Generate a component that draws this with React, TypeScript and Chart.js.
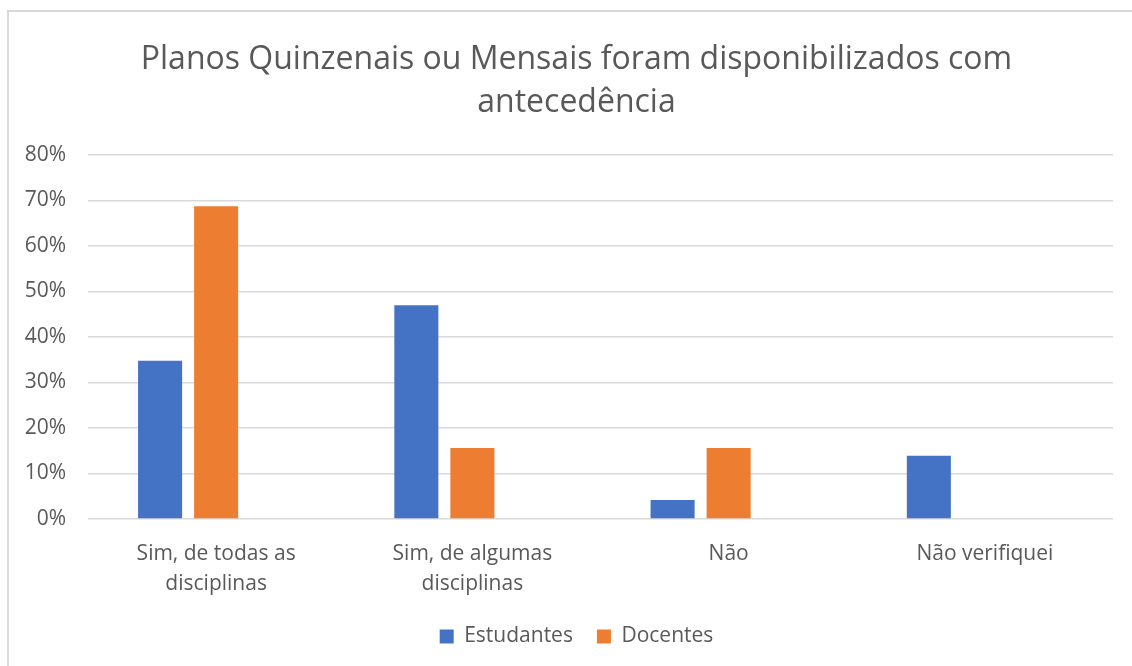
import React, { useEffect, useRef } from "react";
import { Chart, registerables } from "chart.js";

Chart.register(...registerables);

const titleLines = ["Planos Quinzenais ou Mensais foram disponibilizados com", "antecedência"];
const categories = [["Sim, de todas as", "disciplinas"], ["Sim, de algumas", "disciplinas"], "Não", "Não verifiquei"];
const seriesNames = ["Estudantes", "Docentes"];
const estudantes = [34.8, 47.0, 4.2, 13.9];
const docentes = [68.75, 15.6, 15.6, 0];
const emptySeries = [null, null, null, null];
const yMin = 0;
const yMax = 80;
const yStep = 10;

const FONT = "'Open Sans', sans-serif";
const TEXT = "#595959";

const shiftPlugin = {
  id: "shiftBlocks",
  afterLayout(chart: any) {
    const dx = 20;
    if (chart.titleBlock) {
      chart.titleBlock.left += dx;
      chart.titleBlock.right += dx;
    }
    if (chart.legend) {
      chart.legend.left += dx;
      chart.legend.right += dx;
    }
  },
};

export default function App() {
  const ref = useRef<HTMLCanvasElement | null>(null);

  useEffect(() => {
    if (!ref.current) return;
    const chart = new Chart(ref.current, {
      type: "bar",
      data: {
        labels: categories as any,
        datasets: [
          { label: seriesNames[0], data: estudantes, backgroundColor: "#4472C4", borderWidth: 0 },
          { label: seriesNames[1], data: docentes, backgroundColor: "#ED7D31", borderWidth: 0 },
          { label: "", data: emptySeries as any, backgroundColor: "rgba(0,0,0,0)", borderWidth: 0 },
        ],
      },
      plugins: [shiftPlugin],
      options: {
        responsive: false,
        animation: false,
        maintainAspectRatio: false,
        layout: { padding: { left: 0, right: 19, top: 0, bottom: 9 } },
        datasets: { bar: { categoryPercentage: 0.656, barPercentage: 0.786 } } as any,
        plugins: {
          title: {
            display: true,
            text: titleLines,
            color: TEXT,
            font: { family: FONT, size: 32, weight: "normal", lineHeight: 43 / 32 },
            padding: { top: 38, bottom: 31 },
          },
          legend: {
            position: "bottom",
            labels: {
              color: TEXT,
              font: { family: FONT, size: 21 },
              boxWidth: 14,
              boxHeight: 14,
              padding: 24,
              filter: (item: any) => item.text !== "",
            },
          },
          tooltip: { enabled: false },
        },
        scales: {
          x: {
            grid: { display: false },
            border: { display: false },
            ticks: {
              color: TEXT,
              font: { family: FONT, size: 21, lineHeight: 30 / 21 },
              maxRotation: 0,
              autoSkip: false,
              padding: 12,
            },
            afterFit: (s: any) => {
              s.height = 83;
            },
          },
          y: {
            min: yMin,
            max: yMax,
            border: { display: false },
            grid: { color: "#d9d9d9", lineWidth: 1.5, drawTicks: false },
            ticks: {
              stepSize: yStep,
              color: TEXT,
              font: { family: FONT, size: 21 },
              padding: 22,
              callback: (v: any) => v + "%",
            },
            afterFit: (s: any) => {
              s.width = 88;
            },
          },
        },
      },
    });
    return () => chart.destroy();
  }, []);

  return (
    <div style={{ position: "absolute", left: 0, top: 0, width: 1132, height: 666, background: "#fff", overflow: "hidden" }}>
      <div
        style={{
          position: "absolute",
          left: 7,
          top: 10,
          width: 1200,
          height: 700,
          borderLeft: "2px solid #d9d9d9",
          borderTop: "2px solid #d9d9d9",
        }}
      />
      <canvas ref={ref} width={1132} height={666} style={{ position: "absolute", left: 0, top: 0 }} />
    </div>
  );
}
